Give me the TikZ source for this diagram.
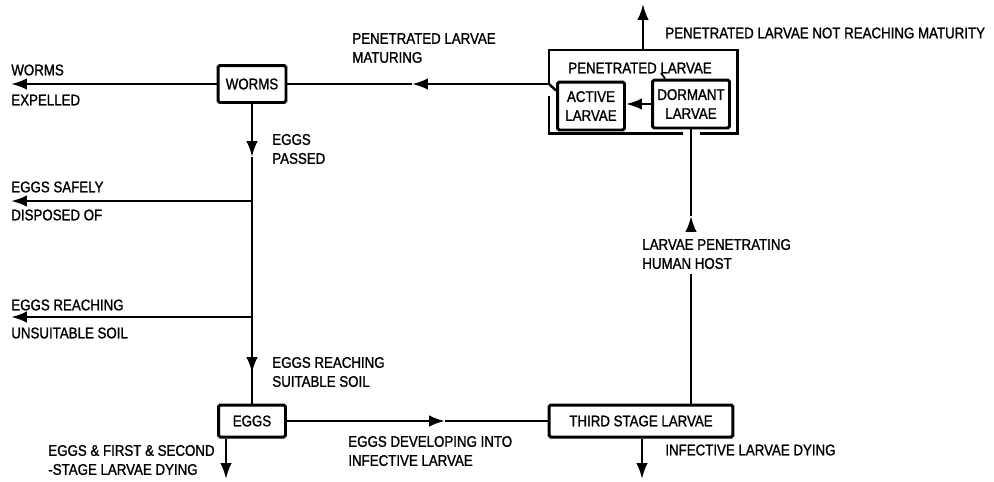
\documentclass[tikz,border=0pt]{standalone}
\usepackage{fontspec}
\setmainfont{Liberation Sans}[FakeStretch=0.86,FakeBold=1.2]
\usetikzlibrary{arrows.meta}
\newcommand{\lblsize}{\fontsize{8.8}{10.8}\selectfont}
\tikzset{
  stage/.style={draw, line width=1.7pt, rounded corners=1pt, inner sep=0pt, align=center, font=\lblsize},
  lbl/.style={anchor=west, inner sep=0pt, align=left, font=\lblsize},
  flow/.style={line width=1.4pt},
  arr/.style={flow, -{Latex[length=9pt,width=6.5pt]}},
}

\begin{document}
\begin{tikzpicture}[x=0.02cm,y=-0.02cm]
  \useasboundingbox (0,0) rectangle (994,481);
  % boxes of the cycle
  \node[stage, minimum width=1.36cm, minimum height=0.74cm] (worms) at (252,84) {WORMS};
  \node[stage, minimum width=1.34cm, minimum height=0.64cm] (eggs) at (252,421) {EGGS};
  \node[stage, minimum width=3.68cm, minimum height=0.64cm] (third) at (641,421) {THIRD STAGE LARVAE};
  \node[stage, minimum width=1.34cm, minimum height=0.96cm] (active) at (591,106) {ACTIVE\\LARVAE};
  \node[stage, minimum width=1.54cm, minimum height=0.96cm] (dormant) at (691,104) {DORMANT\\LARVAE};
  % penetrated larvae frame
  \coordinate (kink) at (549,84);
  \draw[line width=1.7pt] (kink) -- (549,50) -- (737,50) -- (737,133) -- (700,133);
  \draw[line width=1.7pt] (683,133) -- (549,133) -- (549,96);
  \node[lbl] (pentitle) at (568,68) {PENETRATED LARVAE};
  \coordinate (tick) at (661,73);
  \draw[line width=1pt] (tick) -- ([xshift=0.28cm]dormant.north west);
  \draw[arr] (dormant.west) -- (dormant.west -| active.east);
  % larvae leaving the frame
  \coordinate (penout) at (643,50);
  \coordinate (penaway) at (643,4);
  \draw[arr] (penout) -- (penaway);
  \node[lbl] (notmature) at (665,33) {PENETRATED LARVAE NOT REACHING MATURITY};
  % maturing larvae back to worms
  \coordinate (matur) at (412,84);
  \draw[flow] ([yshift=-0.2cm]active.north west) -- (kink);
  \draw[arr] (kink) -- (matur);
  \draw[flow] (matur) -- (worms.east);
  \node[lbl] (maturlbl) at (352,48) {PENETRATED LARVAE\\MATURING};
  % worms expelled
  \coordinate (wormsout) at (11,84);
  \draw[arr] (worms.west) -- (wormsout);
  \node[lbl] (wormsa) at (11,70) {WORMS};
  \node[lbl] (wormsb) at (11,100) {EXPELLED};
  % eggs passed down the left
  \coordinate (passed) at (252,157);
  \coordinate (b1) at (252,201);
  \coordinate (b2) at (252,317);
  \coordinate (suit) at (252,373);
  \draw[arr] (worms.south) -- (passed);
  \draw[flow] (passed) -- (eggs.north);
  \draw[arr] (b2) -- (suit);
  \node[lbl] (passedlbl) at (272,149) {EGGS\\PASSED};
  \node[lbl] (suitlbl) at (272,372) {EGGS REACHING\\SUITABLE SOIL};
  % side losses
  \coordinate (b1end) at (11,201);
  \coordinate (b2end) at (11,317);
  \draw[arr] (b1) -- (b1end);
  \draw[arr] (b2) -- (b2end);
  \node[lbl] (safea) at (11,187) {EGGS SAFELY};
  \node[lbl] (safeb) at (11,215) {DISPOSED OF};
  \node[lbl] (unsuita) at (11,305) {EGGS REACHING};
  \node[lbl] (unsuitb) at (11,333) {UNSUITABLE SOIL};
  % eggs developing
  \coordinate (devel) at (445,421);
  \draw[arr] (eggs.east) -- (devel);
  \draw[flow] (devel) -- (third.west);
  \node[lbl] (devellbl) at (348,451) {EGGS DEVELOPING INTO\\INFECTIVE LARVAE};
  % dying
  \coordinate (eggsdie) at (226,479);
  \coordinate (thirddie) at (642,479);
  \draw[arr] (eggsdie |- eggs.south) -- (eggsdie);
  \draw[arr] (thirddie |- third.south) -- (thirddie);
  \node[lbl] (eggsdielbl) at (48,460) {EGGS \& FIRST \& SECOND\\-STAGE LARVAE DYING};
  \node[lbl] (thirddielbl) at (665,450) {INFECTIVE LARVAE DYING};
  % larvae penetrating host
  \coordinate (hosttip) at (691,216);
  \coordinate (hostbase) at (691,232);
  \coordinate (hostlow) at (691,274);
  \draw[flow] (third.north -| hostlow) -- (hostlow);
  \draw[arr] (hostbase) -- (hosttip);
  \draw[flow] (hosttip) -- (dormant.south);
  \node[lbl] (hostlbl) at (642,254) {LARVAE PENETRATING\\HUMAN HOST};
\end{tikzpicture}
\end{document}
